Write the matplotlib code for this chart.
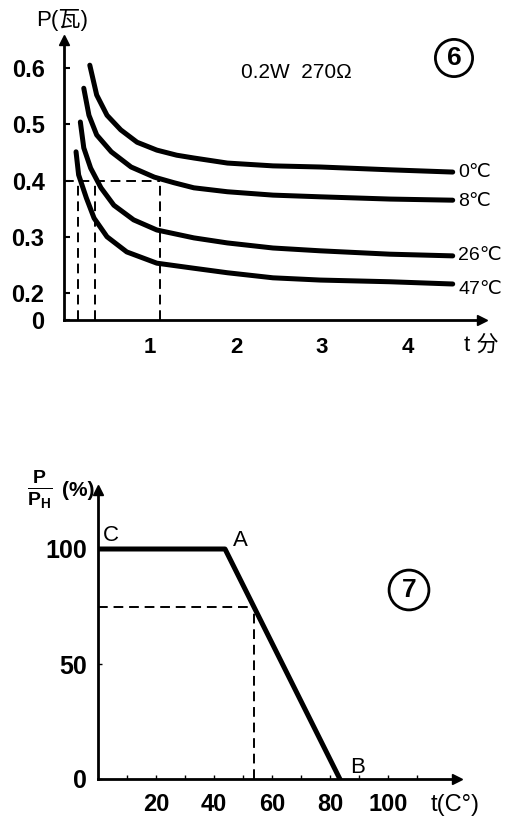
import matplotlib
matplotlib.use('Agg')
import matplotlib.pyplot as plt

plt.rcParams['font.family'] = ['Liberation Sans', 'DejaVu Sans', 'Noto Sans CJK SC']
plt.rcParams['font.weight'] = 'bold'
plt.rcParams['mathtext.fontset'] = 'custom'
plt.rcParams['mathtext.rm'] = 'Liberation Sans:bold'

# chart 6: power vs time for four ambient temperatures
t_0c = [0.30, 0.38, 0.50, 0.66, 0.85, 1.08, 1.31, 1.51, 1.90, 2.43, 2.98, 3.79, 4.52]
p_0c = [0.605, 0.552, 0.516, 0.490, 0.468, 0.454, 0.445, 0.440, 0.431, 0.426, 0.424, 0.419, 0.415]
t_8c = [0.23, 0.29, 0.38, 0.55, 0.78, 1.05, 1.28, 1.51, 1.90, 2.43, 2.98, 3.79, 4.52]
p_8c = [0.564, 0.516, 0.481, 0.451, 0.424, 0.406, 0.396, 0.387, 0.380, 0.374, 0.371, 0.367, 0.365]
t_26c = [0.19, 0.23, 0.31, 0.43, 0.58, 0.81, 1.08, 1.51, 1.90, 2.43, 2.98, 3.79, 4.52]
p_26c = [0.504, 0.458, 0.422, 0.387, 0.356, 0.330, 0.312, 0.298, 0.289, 0.280, 0.275, 0.269, 0.266]
t_47c = [0.14, 0.17, 0.26, 0.35, 0.50, 0.73, 1.08, 1.51, 1.90, 2.43, 2.98, 3.79, 4.52]
p_47c = [0.451, 0.410, 0.369, 0.333, 0.300, 0.273, 0.253, 0.244, 0.236, 0.227, 0.223, 0.220, 0.216]
curve_labels = ['0℃', '8℃', '26℃', '47℃']
guide_p = 0.4
guide_t = [0.16, 0.36, 1.12]
y_ticks_top = [0.2, 0.3, 0.4, 0.5, 0.6]
x_ticks_top = [1, 2, 3, 4]

# chart 7: derating curve C-A-B
derate_t = [0, 43.8, 83.4]
derate_p = [100, 100, 0]
derate_names = ['C', 'A', 'B']
guide2_t = 53.8
guide2_p = 75
x_ticks_bot = [20, 40, 60, 80, 100]
y_ticks_bot = [0, 50, 100]

W, H = 512, 833
fig = plt.figure(figsize=(W / 100, H / 100), dpi=100)


def px_axes(left, top, right, bottom):
    return fig.add_axes([left / W, 1 - bottom / H, (right - left) / W, (bottom - top) / H])


def fx(px):
    return px / W


def fy(py):
    return 1 - py / H


def arrow_axes(ax):
    for s in ['top', 'right']:
        ax.spines[s].set_visible(False)
    for s in ['left', 'bottom']:
        ax.spines[s].set_linewidth(2)
    ax.plot(1, 0, '>k', ms=7, transform=ax.transAxes, clip_on=False)
    ax.plot(0, 1, '^k', ms=7, transform=ax.transAxes, clip_on=False)
    ax.patch.set_visible(False)


# ---- top chart ----
ax1 = px_axes(64, 40, 482, 320)
ylo = 0.2 - 27 / 562.5
ax1.set_xlim(0, (482 - 64) / 86)
ax1.set_ylim(ylo, 0.2 + 253 / 562.5)
arrow_axes(ax1)

curves = [(t_0c, p_0c), (t_8c, p_8c), (t_26c, p_26c), (t_47c, p_47c)]
for t, p in curves:
    ax1.plot(t, p, color='black', lw=3.6, solid_capstyle='round', solid_joinstyle='round')

offs = [0, -1, 0, -4]
for (t, p), lab, dy in zip(curves, curve_labels, offs):
    ax1.annotate(lab, (t[-1], p[-1]), xytext=(4, dy), textcoords='offset points',
                 ha='left', va='center', fontsize=14, fontweight='normal')

ax1.plot([0, guide_t[-1]], [guide_p, guide_p], 'k--', lw=1.4, dashes=(5, 3))
for gt in guide_t:
    ax1.plot([gt, gt], [ylo, guide_p], 'k--', lw=1.4, dashes=(5, 3))

ax1.set_yticks([ylo] + y_ticks_top)
ax1.set_yticklabels(['0'] + [str(v) for v in y_ticks_top])
ax1.set_xticks(x_ticks_top)
ax1.tick_params(axis='y', direction='in', length=4, width=1.5, pad=14, labelsize=17)
ax1.tick_params(axis='x', direction='in', length=0, pad=12, labelsize=16)

fig.text(fx(62), fy(20), 'P(瓦)', ha='center', va='center', fontsize=16, fontweight='normal')
fig.text(fx(481), fy(345), 't 分', ha='center', va='center', fontsize=16, fontweight='normal')
fig.text(fx(296), fy(72), '0.2W  270Ω', ha='center', va='center', fontsize=15, fontweight='normal')
fig.text(fx(454), fy(58), '6', ha='center', va='center', fontsize=19,
         bbox=dict(boxstyle='circle,pad=0.25', fc='none', ec='black', lw=2))

# ---- bottom chart ----
ax2 = px_axes(98, 490, 457, 779)
ax2.set_xlim(0, (457 - 98) / 2.9)
ax2.set_ylim(0, (779 - 490) / 2.3)
arrow_axes(ax2)

ax2.plot(derate_t, derate_p, color='black', lw=3.6, solid_joinstyle='round')
ax2.plot([0, guide2_t], [guide2_p, guide2_p], 'k--', lw=1.4, dashes=(5, 3))
ax2.plot([guide2_t, guide2_t], [0, guide2_p], 'k--', lw=1.4, dashes=(5, 3))

name_offs = [(9, 10), (11, 6), (13, 8)]
for t, p, nm, off in zip(derate_t, derate_p, derate_names, name_offs):
    ax2.annotate(nm, (t, p), xytext=off, textcoords='offset points',
                 ha='center', va='center', fontsize=16, fontweight='normal')

ax2.set_xticks(x_ticks_bot)
ax2.set_xticks(range(10, 120, 10), minor=True)
ax2.set_yticks(y_ticks_bot)
ax2.tick_params(axis='x', which='both', direction='in', length=3, width=1, pad=10, labelsize=17)
ax2.tick_params(axis='y', direction='in', length=3, width=1, pad=8, labelsize=18)

fig.text(fx(40), fy(490), r'$\frac{\mathrm{P}}{\mathrm{P_H}}$', ha='center', va='center', fontsize=20)
fig.text(fx(78), fy(490), '(%)', ha='center', va='center', fontsize=15)
fig.text(fx(455), fy(805), 't(C°)', ha='center', va='center', fontsize=17, fontweight='normal')
fig.text(fx(409), fy(590), '7', ha='center', va='center', fontsize=19,
         bbox=dict(boxstyle='circle,pad=0.3', fc='none', ec='black', lw=2))

fig.savefig('out.png', dpi=100)
